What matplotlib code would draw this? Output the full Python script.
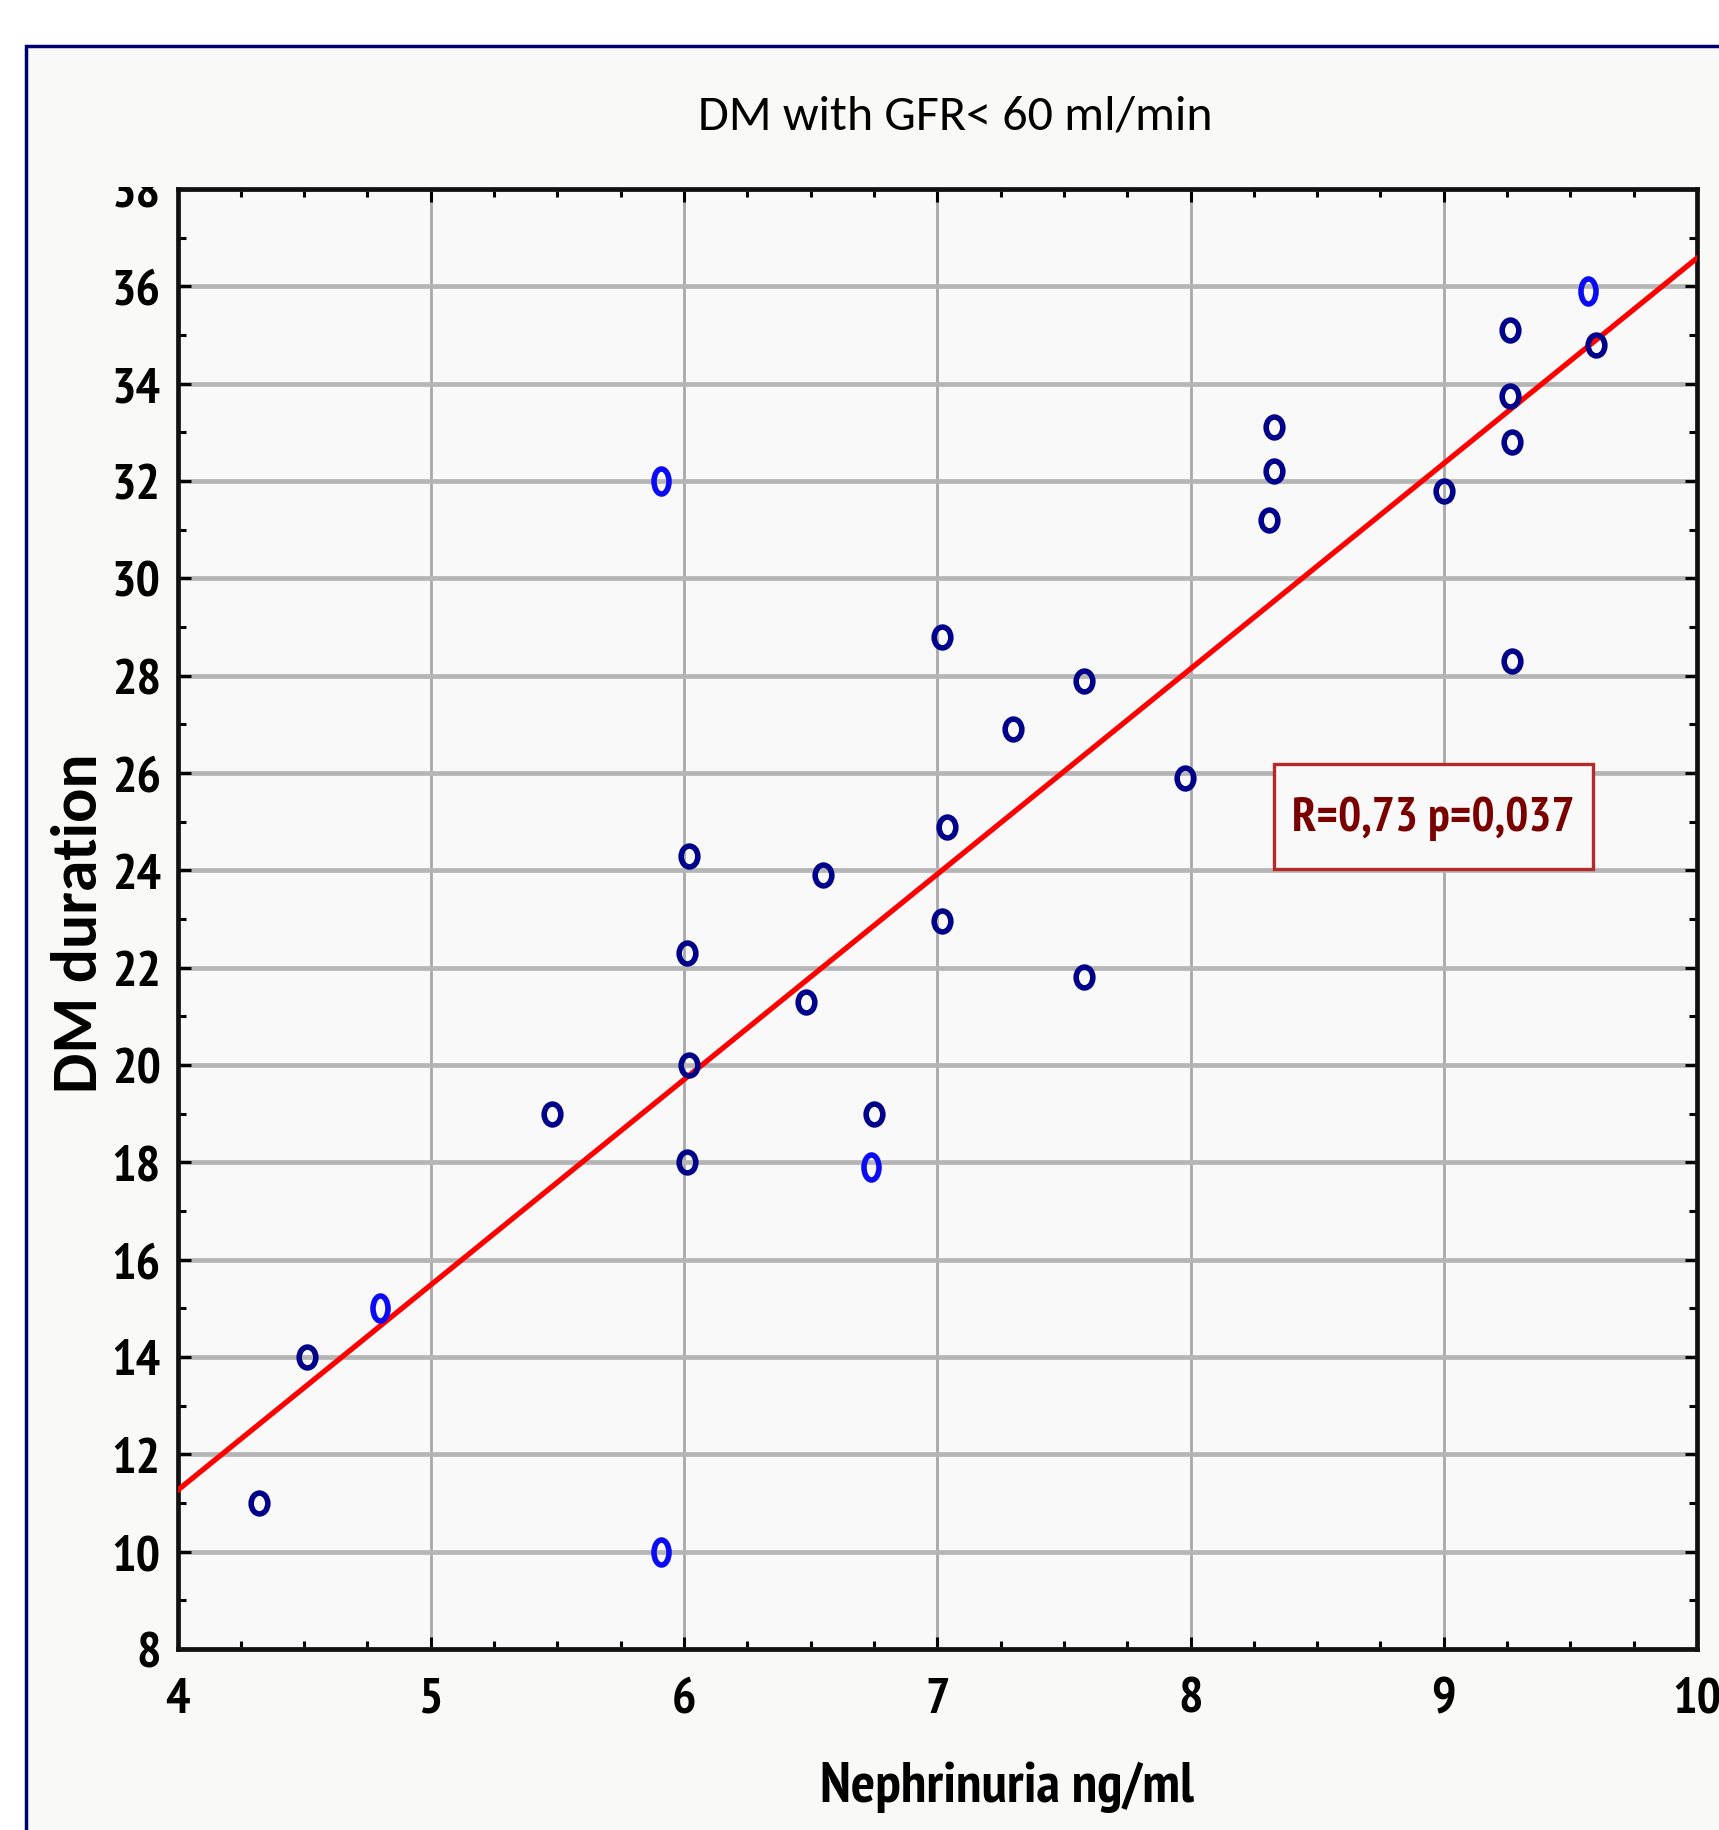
import matplotlib
matplotlib.use("Agg")
import matplotlib.pyplot as plt
from matplotlib.markers import MarkerStyle
from matplotlib.patches import Rectangle
from matplotlib.transforms import Affine2D
import numpy as np

TITLE = "DM with GFR< 60 ml/min"
X_LABEL = "Nephrinuria ng/ml"
Y_LABEL = "DM duration"
STATS_TEXT = "R=0,73 p=0,037"

# dark navy points
nephrin_dark = [4.32, 4.51, 5.48, 6.02, 6.01, 6.02, 6.01, 6.48, 6.55, 6.75,
                7.02, 7.04, 7.02, 7.30, 7.58, 7.58, 7.98, 8.33, 8.33, 8.31,
                9.00, 9.26, 9.26, 9.27, 9.27, 9.60]
duration_dark = [11.0, 14.0, 19.0, 24.3, 22.3, 20.0, 18.0, 21.3, 23.9, 19.0,
                 28.8, 24.9, 22.95, 26.9, 27.9, 21.8, 25.9, 33.1, 32.2, 31.2,
                 31.8, 35.1, 33.75, 32.8, 28.3, 34.8]
# bright blue points
nephrin_light = [4.80, 5.91, 5.91, 6.74, 9.57]
duration_light = [15.0, 32.0, 10.0, 17.9, 35.9]

# regression line
FIT_INTERCEPT = -5.62
FIT_SLOPE = 4.22

X_TICKS = [4, 5, 6, 7, 8, 9, 10]
Y_TICKS = list(range(8, 39, 2))

NARROW = ["PT Sans Narrow", "DejaVu Sans"]
CALIBRI = ["Carlito", "DejaVu Sans"]
plt.rcParams["font.family"] = NARROW

W, H = 1719, 1831
fig = plt.figure(figsize=(W / 100, H / 100), dpi=100)
fig.patch.set_facecolor("white")

# outer navy frame, clipped at right/bottom like the source
fig.add_artist(Rectangle((25.7 / W, -0.05), 1.2, 1.05 - 46.7 / H,
                         transform=fig.transFigure, facecolor="#F9F9F7",
                         edgecolor="#000070", lw=2.5, zorder=-2))

ax = fig.add_axes([177.5 / W, 181 / H, (1697 - 177.5) / W, (1650 - 190) / H])
ax.set_facecolor("#F9F9F9")

dark_marker = MarkerStyle("o", transform=Affine2D().scale(0.8, 1.0))
light_marker = MarkerStyle("o", transform=Affine2D().scale(0.6, 1.0))

xs = np.array([X_TICKS[0], X_TICKS[-1]], dtype=float)
ax.plot(xs, FIT_INTERCEPT + FIT_SLOPE * xs, color="#FF0000", lw=3.8, zorder=3)

ax.plot(nephrin_dark, duration_dark, linestyle="none", marker=dark_marker,
        markersize=15, markerfacecolor="none", markeredgecolor="#00008A",
        markeredgewidth=4, zorder=4)
ax.plot(nephrin_light, duration_light, linestyle="none", marker=light_marker,
        markersize=18, markerfacecolor="none", markeredgecolor="#0A0AF5",
        markeredgewidth=4, zorder=4)

ax.set_xlim(X_TICKS[0], X_TICKS[-1])
ax.set_ylim(Y_TICKS[0], Y_TICKS[-1])
ax.set_xticks(X_TICKS)
ax.set_yticks(Y_TICKS)
ax.set_xticks(np.arange(4, 10.01, 0.25), minor=True)
ax.set_yticks(np.arange(8, 38.01, 1), minor=True)

ax.set_axisbelow(True)
ax.yaxis.grid(True, which="major", color="#b5b5b5", lw=3.4)
ax.xaxis.grid(True, which="major", color="#a8a8a8", lw=2)

for sp in ax.spines.values():
    sp.set_linewidth(3.4)
    sp.set_color("#111111")

ax.tick_params(which="both", direction="in", top=True, right=True,
               width=2.2, colors="black")
ax.tick_params(which="major", length=9)
ax.tick_params(which="minor", length=6)
ax.tick_params(axis="x", which="major", pad=20, labelsize=37)
ax.tick_params(axis="y", which="major", pad=12, labelsize=37)
for lab in ax.get_xticklabels() + ax.get_yticklabels():
    lab.set_fontweight("bold")

# statistics box
ax.add_patch(Rectangle((8.33, 24.03), 1.26, 2.16, facecolor="#F9F9F9",
                       edgecolor="#B52A2A", lw=2.4, zorder=5))
ax.text(8.96, 25.08, STATS_TEXT, ha="center", va="center", fontsize=35,
        fontweight="bold", color="#7A0000", zorder=6)

fig.text(955 / W, 1 - 117 / H, TITLE, ha="center", va="center", fontsize=36,
         color="black", family=CALIBRI)
fig.text(1007 / W, 1 - 1787 / H, X_LABEL, ha="center", va="center",
         fontsize=41, fontweight="bold", color="black")
fig.text(79 / W, 1 - 923 / H, Y_LABEL, ha="center", va="center", rotation=90,
         fontsize=46, fontweight="bold", color="black", family=CALIBRI)

# the top "38" label is half hidden behind the title band in the source
fig.add_artist(Rectangle((30 / W, 1 - 188 / H), (172 - 30) / W, 130 / H,
                         transform=fig.transFigure, facecolor="#F9F9F7",
                         edgecolor="none", zorder=5))

fig.savefig("out.png", dpi=100, facecolor=fig.get_facecolor())
